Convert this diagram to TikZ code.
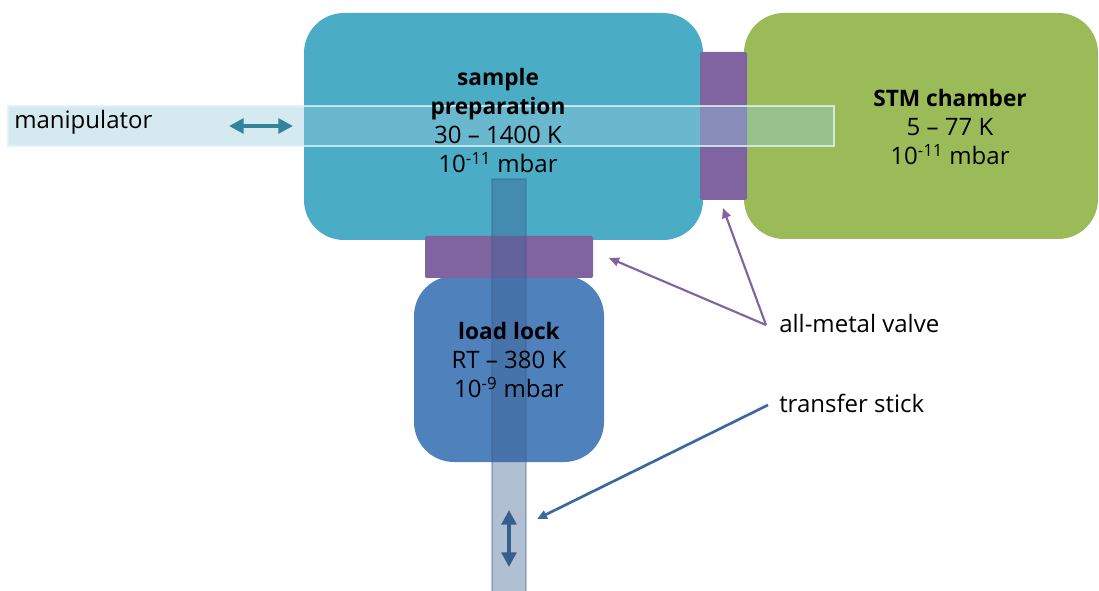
\documentclass[tikz,border=0pt]{standalone}
\usepackage{fontspec}
\setmainfont{Open Sans}
\usetikzlibrary{arrows.meta}
\definecolor{prepaqua}{HTML}{4BACC6}
\definecolor{stmgreen}{HTML}{9BBB59}
\definecolor{lockblue}{HTML}{4F81BD}
\definecolor{valvepurple}{HTML}{8064A2}
\definecolor{manipfill}{RGB}{150,202,218}
\definecolor{manipedge}{RGB}{225,242,247}
\definecolor{stickfill}{RGB}{57,94,143}
\definecolor{manipdark}{HTML}{31849B}
\definecolor{stickdark}{HTML}{365F91}
\definecolor{pointerblue}{HTML}{3C68A2}
% bold chamber title, set slightly smaller than the body lines
\newcommand\chhead[1]{{\fontsize{17}{21.75}\selectfont\bfseries #1}}
\begin{document}
\begin{tikzpicture}[x=0.75pt,y=-0.75pt,
  chamber/.style={rounded corners=30pt, inner sep=0pt, draw=none},
  valvebox/.style={fill=valvepurple, rounded corners=1pt, inner sep=0pt},
  lbl/.style={align=center, inner sep=0pt, text=black,
    font=\fontsize{18}{21.75}\selectfont},
  side/.style={inner sep=0pt, text=black, font=\fontsize{18}{21}\selectfont},
  moveboth/.style={line width=3pt, {Triangle[length=11pt,width=11pt]}-{Triangle[length=11pt,width=11pt]}},
  pointer/.style={line width=1.6pt, -{Triangle[length=7.5pt,width=6.5pt]}}]
\useasboundingbox (0,0) rectangle (1099,591);

% vacuum chambers
\node[chamber, fill=prepaqua, minimum width=299.25pt, minimum height=170.25pt] (prep) at (503.5,126.5) {};
\node[chamber, fill=stmgreen, minimum width=265.5pt, minimum height=169.5pt] (stm) at (921,126) {};
\node[chamber, fill=lockblue, minimum width=142.5pt, minimum height=139.5pt] (lock) at (509,369) {};

% all-metal gate valves
\node[valvebox, minimum width=35.25pt, minimum height=111pt] (valveR) at (723.5,126) {};
\node[valvebox, minimum width=126pt, minimum height=31.5pt] (valveB) at (509,257) {};

% manipulator rod (translucent)
\node[inner sep=0pt, minimum width=619.5pt, minimum height=30pt, fill=manipfill, fill opacity=0.4,
  draw=manipedge, draw opacity=0.8, line width=1.2pt] (manip) at (421,126) {};

% transfer stick rod (translucent)
\node[inner sep=0pt, minimum width=25.5pt, minimum height=315pt, fill=stickfill, fill opacity=0.4,
  draw=stickfill, draw opacity=0.35, line width=1.5pt] (stick) at (509,389) {};

% motion arrows
\coordinate (mL) at (229,126);
\coordinate (mR) at (293,126);
\draw[moveboth, manipdark] (mL) -- (mR);
\coordinate (sT) at (509,510);
\coordinate (sB) at (509,567);
\draw[moveboth, stickdark] (sT) -- (sB);

% chamber labels
\node[lbl] (preplbl) at (498,121) {\chhead{sample}\\ \chhead{preparation}\\ 30 – 1400 K\\ 10\textsuperscript{-11} mbar};
\node[lbl] (stmlbl) at (950,127) {\chhead{STM chamber}\\ 5 – 77 K\\ 10\textsuperscript{-11} mbar};
\node[lbl] (locklbl) at (509,360.5) {\chhead{load lock}\\ RT – 380 K\\ 10\textsuperscript{-9} mbar};

% side labels
\node[side, anchor=base west] (maniplbl) at (14,129) {manipulator};
\node[side, anchor=base west] (valvelbl) at (779,333) {all-metal valve};
\node[side, anchor=base west] (sticklbl) at (779,412) {transfer stick};

% pointers
\coordinate (vtail) at (766,325);
\coordinate (vtipB) at (609,258);
\coordinate (vtipR) at (723,208);
\draw[pointer, valvepurple] (vtail) -- (vtipB);
\draw[pointer, valvepurple] (vtail) -- (vtipR);
\coordinate (stail) at (768,405);
\coordinate (stip) at (537,519);
\draw[pointer, pointerblue, line width=2pt] (stail) -- (stip);
\end{tikzpicture}
\end{document}
